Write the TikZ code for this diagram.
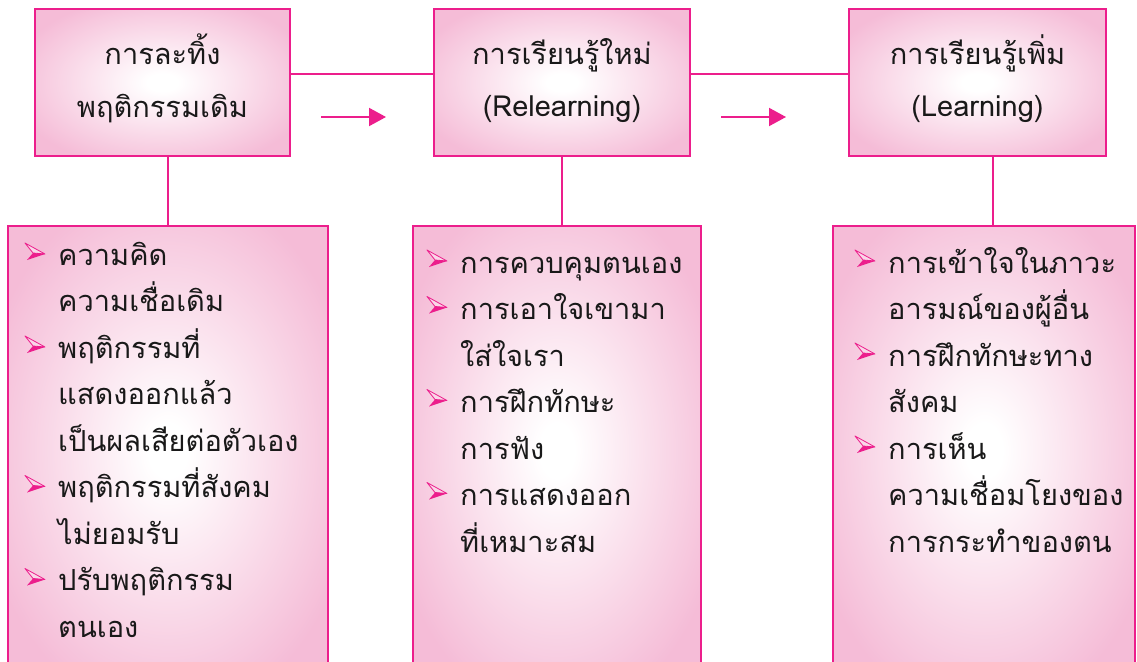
\documentclass[tikz,border=0pt]{standalone}
\usepackage{fontspec}
\newfontfamily\thai[Script=Thai]{Loma}
\usetikzlibrary{arrows.meta}
\definecolor{mag}{RGB}{236,30,140}
\definecolor{pinkfill}{RGB}{245,188,215}
\definecolor{bullight}{RGB}{250,215,232}
\pgfdeclareradialshading{glow}{\pgfpoint{0bp}{0bp}}{color(0bp)=(white); color(3bp)=(white); color(30bp)=(pinkfill); color(50bp)=(pinkfill)}
\tikzset{
  box/.style={draw=mag, line width=2pt, shading=glow, inner sep=0pt, outer sep=0pt},
  conn/.style={draw=mag, line width=2pt},
  flow/.style={draw=mag, line width=2pt, -{Triangle[length=17pt,width=18pt]}},
  txt/.style={font=\thai\fontsize{29}{33}\selectfont, inner sep=0pt, text=black!90},
  item/.style={txt, anchor=base west},
  head/.style={txt, anchor=base},
  bul/.pic={
    \fill[bullight] (0,0) -- (20,11) -- (8,10) -- cycle;
    \draw[mag, line width=0.8pt, line join=round] (0,0) -- (20,11) -- (8,10) -- cycle;
    \fill[mag] (8,10) -- (20,11) -- (2,17) -- cycle;
  }
}
\begin{document}
\begin{tikzpicture}[x=1pt,y=-1pt]
\useasboundingbox (0,0) rectangle (1137,661);
\clip (0,0) rectangle (1137,661);
% boxes
\node[box, minimum width=255pt, minimum height=147pt] (t1) at (162.5,82.5) {};
\node[box, minimum width=256pt, minimum height=147pt] (t2) at (562,82.5) {};
\node[box, minimum width=257pt, minimum height=147pt] (t3) at (977.5,82.5) {};
\node[box, minimum width=320pt, minimum height=449pt] (b1) at (168,450.5) {};
\node[box, minimum width=288pt, minimum height=449pt] (b2) at (557,450.5) {};
\node[box, minimum width=302pt, minimum height=449pt] (b3) at (984,450.5) {};
% connectors
\coordinate (h) at (0,74);
\coordinate (c3) at (993,0);
\draw[conn] (t1.east |- h) -- (t2.west |- h);
\draw[conn] (t2.east |- h) -- (t3.west |- h);
\draw[conn] (t1.south -| b1.north) -- (b1.north);
\draw[conn] (t2.south) -- (t2.south |- b2.north);
\draw[conn] (t3.south -| c3) -- (b3.north -| c3);
\coordinate (a1s) at (321,117);
\coordinate (a1e) at (386,117);
\coordinate (a2s) at (721,117);
\coordinate (a2e) at (786,117);
\draw[flow] (a1s) -- (a1e);
\draw[flow] (a2s) -- (a2e);
% headings
\node[head] (h1a) at (162.5,65) {การละทิ้ง};
\node[head] (h1b) at (162.5,117) {พฤติกรรมเดิม};
\node[head] (h2a) at (562,65) {การเรียนรู้ใหม่};
\node[head] (h2b) at (562,116) {(Relearning)};
\node[head] (h3a) at (977.5,65) {การเรียนรู้เพิ่ม};
\node[head] (h3b) at (977.5,116) {(Learning)};
% box 1 items
\foreach \t [count=\i from 0] in {ความคิด, ความเชื่อเดิม, พฤติกรรมที่, แสดงออกแล้ว, เป็นผลเสียต่อตัวเอง, พฤติกรรมที่สังคม, ไม่ยอมรับ, ปรับพฤติกรรม, ตนเอง}
  \node[item] (ia\i) at (58,{265+\i*46.5}) {\t};
\foreach \i in {0,2,5,7} \pic at (25,{243+\i*46.5}) {bul};
% box 2 items
\foreach \t [count=\i from 0] in {การควบคุมตนเอง, การเอาใจเขามา, ใส่ใจเรา, การฝึกทักษะ, การฟัง, การแสดงออก, ที่เหมาะสม}
  \node[item] (ib\i) at (460,{273+\i*46.5}) {\t};
\foreach \i in {0,1,3,5} \pic at (427,{250+\i*46.5}) {bul};
% box 3 items
\foreach \t [count=\i from 0] in {การเข้าใจในภาวะ, อารมณ์ของผู้อื่น, การฝึกทักษะทาง, สังคม, การเห็น, ความเชื่อมโยงของ, การกระทำของตน}
  \node[item] (ic\i) at (888,{273+\i*46.5}) {\t};
\foreach \i in {0,2,4} \pic at (855,{250+\i*46.5}) {bul};
\end{tikzpicture}
\end{document}
